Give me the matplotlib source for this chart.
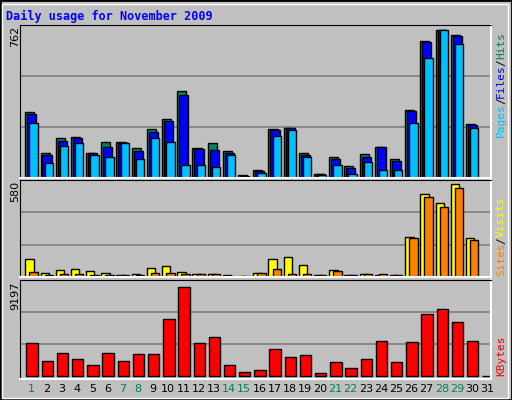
import matplotlib
matplotlib.use("Agg")
import matplotlib.pyplot as plt
import numpy as np

days = list(range(1, 32))
hits  = [340,131,204,209,131,183,183,157,255,302,449,157,178,141,14,43,255,260,128,22,107,60,122,162,97,348,707,762,738,278,0]
files = [328,121,193,204,128,162,179,141,238,292,426,152,145,131,10,36,245,259,121,19,97,50,107,159,86,343,700,762,733,273,0]
pages = [286,79,167,178,121,110,178,100,204,183,69,69,59,116,7,28,214,250,107,17,69,22,85,43,40,286,618,762,690,257,0]
visits = [111,27,46,52,40,27,15,21,58,71,33,21,21,15,8,27,111,127,77,15,46,15,21,15,15,252,521,465,580,246,0]
sites  = [33,15,21,21,15,15,15,15,27,27,21,21,21,8,8,27,52,21,21,15,40,15,21,21,15,246,497,440,553,234,0]
kbytes = [3357,1544,2350,1745,1141,2350,1544,2249,2249,5874,9197,3357,4062,1141,336,638,2752,1947,2148,235,1443,839,1745,3558,1443,3457,6377,6881,5572,3558,0]
weekend = [1,7,8,14,15,21,22,28,29]

W, H = 512, 400
fig = plt.figure(figsize=(5.12, 4.0), dpi=100, facecolor="#c0c0c0")
bg = "#c0c0c0"
# outer frame
fig.patches.append(plt.Rectangle((0, 0), 1, 1, transform=fig.transFigure, fill=False,
                                 edgecolor="black", lw=2))
fig.patches.append(plt.Rectangle((2/W, 2/H), 1-6/W, 1-6/H, transform=fig.transFigure, fill=False,
                                 edgecolor="white", lw=1))

def mkax(top, bot):
    ax = fig.add_axes([20/W, 1-bot/H, (491-20)/W, (bot-top)/H])
    ax.set_facecolor(bg)
    ax.set_xlim(0.25, 31.25)
    for s in ["top", "left"]:
        ax.spines[s].set_color("black")
    for s in ["bottom", "right"]:
        ax.spines[s].set_color("white")
        ax.spines[s].set_linewidth(1.5)
    ax.set_xticks([]); ax.set_yticks([])
    return ax

x = np.array(days, dtype=float)
ek = dict(edgecolor="black", linewidth=1, align="edge")

ax1 = mkax(25, 178)
top1 = max(hits) * 1.035
ax1.set_ylim(0, top1)
for f in (1/3, 2/3):
    ax1.axhline(top1*f, color="#808080", lw=1.2, zorder=0)
ax1.bar(x - 0.4, hits, 0.6, color="#00805c", **ek)
ax1.bar(x - 0.27, files, 0.6, color="#0000ff", **ek)
ax1.bar(x - 0.13, pages, 0.55, color="#00c0ff", **ek)

ax2 = mkax(180, 277)
top2 = max(visits) * 1.045
ax2.set_ylim(0, top2)
for f in (1/3, 2/3):
    ax2.axhline(top2*f, color="#808080", lw=1.2, zorder=0)
ax2.bar(x - 0.4, visits, 0.55, color="#ffff00", **ek)
ax2.bar(x - 0.13, sites, 0.55, color="#ff8000", **ek)

ax3 = mkax(280, 379)
top3 = max(kbytes) * 1.08
ax3.set_ylim(-top3*0.035, top3)
for f in (1/3, 2/3):
    ax3.axhline(top3*f, color="#808080", lw=1.2, zorder=0)
ax3.bar(x - 0.33, kbytes, 0.75, color="#ff0000", **ek)

for d in days:
    c = "#00805c" if d in weekend else "black"
    fig.text((20 + (d - 0.25) * 15.2)/W, 1-389/H, str(d), color=c, fontsize=8,
             ha="center", va="center", family="DejaVu Sans")

fig.text(6/W, 1-16/H, "Daily usage for November 2009", color="#0000ff", fontsize=8.5,
         fontweight="bold", family="DejaVu Sans Mono", ha="left", va="center")

for ypx, lab in [(26, "762"), (181, "580"), (282, "9197")]:
    fig.text(15/W, 1-ypx/H, lab, rotation=90, fontsize=8, ha="center", va="top",
             family="DejaVu Sans")

def vlabel(parts, ybot):
    y = ybot
    for t, c in parts:
        tt = fig.text(501/W, 1-y/H, t, rotation=90, color=c, fontsize=8,
                      family="DejaVu Sans Mono", ha="center", va="bottom")
        y -= len(t) * 6.5

vlabel([("Pages", "#00c0ff"), ("/", "black"), ("Files", "#0000ff"), ("/", "black"), ("Hits", "#00805c")], 137)
vlabel([("Sites", "#ff8000"), ("/", "black"), ("Visits", "#ffff00")], 276)
vlabel([("KBytes", "#ff0000")], 376)

fig.savefig("out.png", dpi=100, facecolor=fig.get_facecolor())
